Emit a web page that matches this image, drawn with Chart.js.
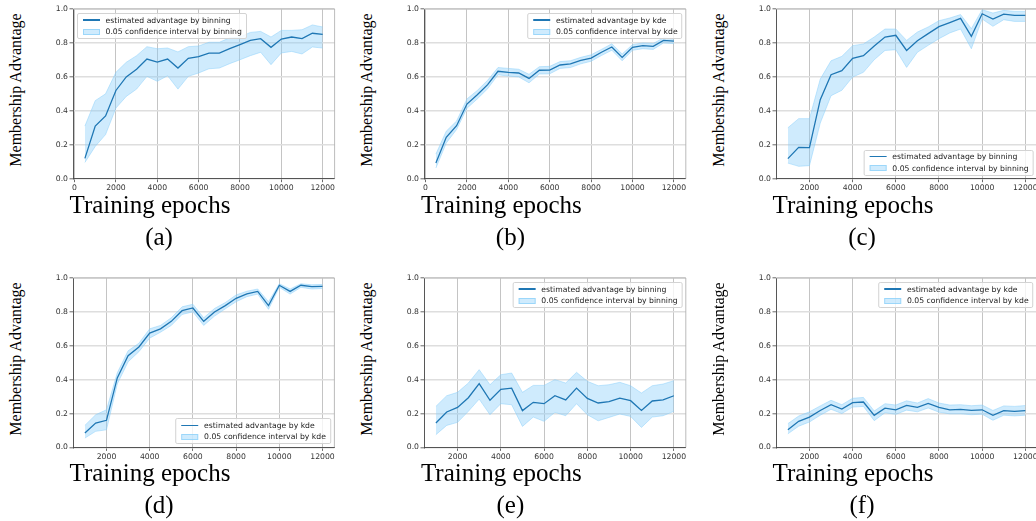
<!DOCTYPE html>
<html>
<head>
<meta charset="utf-8">
<script src="https://cdn.jsdelivr.net/npm/chart.js@4.4.1/dist/chart.umd.min.js"></script>
<style>
html, body { margin: 0; padding: 0; background: #fff; }
body { position: relative; width: 1036px; height: 521px; overflow: hidden; }
canvas { position: absolute; }
.serif { position: absolute; font-family: "Liberation Serif", "Times New Roman", serif; color: #000; white-space: nowrap; transform: translate(-50%, -50%); }
.ylab { font-size: 16px; transform: translate(-50%, -50%) rotate(-90deg); }
.xlab { font-size: 25px; }
.cap { font-size: 25px; }
.legend { position: absolute; background: rgba(255,255,255,0.8); border: 1px solid #d3d3d3; border-radius: 2px; padding: 0.5px 4px 0.5px 5px; font-family: "DejaVu Sans", sans-serif; font-size: 7.7px; color: #222; white-space: nowrap; }
.legend .row { display: flex; align-items: center; height: 11.5px; }
.legend .sw { width: 17px; margin-right: 6px; box-sizing: border-box; }
.legend .ln { height: 1.3px; background: #1f77b4; }
.legend .bd { height: 6px; background: rgba(135,206,250,0.4); border: 0.8px solid rgba(135,206,250,0.7); }
</style>
</head>
<body>
<script>
// x values (training epochs)
const epochs500 = [500,1000,1500,2000,2500,3000,3500,4000,4500,5000,5500,6000,6500,7000,7500,8000,8500,9000,9500,10000,10500,11000,11500,12000];
const epochs1000 = [1000,1500,2000,2500,3000,3500,4000,4500,5000,5500,6000,6500,7000,7500,8000,8500,9000,9500,10000,10500,11000,11500,12000];

const xTicksFrom0 = [0,2000,4000,6000,8000,10000,12000];
const xTicksFrom2000 = [2000,4000,6000,8000,10000,12000];
const yTicks = [0,0.2,0.4,0.6,0.8,1.0];

// (a) binning
const meanA = [0.12,0.31,0.37,0.52,0.60,0.645,0.705,0.687,0.705,0.652,0.709,0.719,0.74,0.74,0.766,0.79,0.815,0.825,0.774,0.823,0.835,0.825,0.857,0.85];
const upA = [0.31,0.46,0.50,0.627,0.686,0.725,0.778,0.766,0.77,0.747,0.778,0.782,0.804,0.804,0.83,0.835,0.862,0.868,0.835,0.874,0.874,0.878,0.906,0.894];
const loA = [0.096,0.19,0.26,0.416,0.485,0.528,0.603,0.574,0.607,0.528,0.603,0.623,0.648,0.652,0.678,0.701,0.725,0.745,0.672,0.741,0.75,0.735,0.776,0.77];

// (b) kde
const meanB = [0.092,0.244,0.312,0.44,0.495,0.554,0.633,0.627,0.623,0.591,0.639,0.64,0.67,0.676,0.697,0.711,0.745,0.776,0.715,0.774,0.784,0.78,0.815,0.811];
const upB = [0.145,0.28,0.34,0.47,0.52,0.58,0.655,0.65,0.645,0.615,0.66,0.662,0.69,0.695,0.715,0.73,0.762,0.795,0.735,0.79,0.8,0.797,0.83,0.826];
const loB = [0.063,0.21,0.29,0.415,0.47,0.53,0.612,0.605,0.6,0.565,0.617,0.618,0.65,0.655,0.677,0.692,0.726,0.757,0.695,0.757,0.766,0.762,0.8,0.796];

// (c) binning
const meanC = [0.118,0.185,0.183,0.466,0.613,0.637,0.709,0.725,0.782,0.835,0.845,0.756,0.813,0.855,0.896,0.92,0.945,0.839,0.972,0.941,0.97,0.963,0.963];
const upC = [0.30,0.354,0.354,0.587,0.695,0.721,0.784,0.794,0.835,0.882,0.882,0.815,0.864,0.894,0.931,0.947,0.967,0.884,0.996,0.976,0.992,0.986,0.986];
const loC = [0.092,0.073,0.077,0.328,0.489,0.521,0.599,0.627,0.701,0.756,0.76,0.656,0.745,0.786,0.825,0.859,0.882,0.766,0.941,0.898,0.937,0.927,0.927];

// (d) kde
const meanD = [0.085,0.144,0.16,0.41,0.541,0.593,0.675,0.70,0.744,0.807,0.823,0.744,0.799,0.837,0.88,0.906,0.921,0.837,0.957,0.921,0.957,0.949,0.951];
const upD = [0.13,0.193,0.222,0.44,0.57,0.615,0.70,0.72,0.765,0.83,0.845,0.765,0.82,0.855,0.9,0.922,0.935,0.86,0.966,0.935,0.966,0.96,0.962];
const loD = [0.055,0.095,0.104,0.375,0.505,0.565,0.645,0.68,0.72,0.785,0.8,0.72,0.775,0.818,0.86,0.89,0.905,0.815,0.945,0.905,0.945,0.935,0.938];

// (e) binning
const meanE = [0.144,0.209,0.236,0.293,0.376,0.278,0.343,0.35,0.217,0.266,0.258,0.305,0.28,0.35,0.289,0.262,0.27,0.291,0.276,0.218,0.274,0.28,0.305];
const upE = [0.242,0.305,0.325,0.38,0.459,0.37,0.429,0.439,0.325,0.366,0.366,0.40,0.38,0.443,0.39,0.364,0.37,0.384,0.364,0.321,0.364,0.374,0.394];
const loE = [0.075,0.13,0.148,0.213,0.285,0.193,0.258,0.252,0.124,0.179,0.154,0.207,0.187,0.258,0.193,0.157,0.177,0.197,0.183,0.118,0.179,0.187,0.213];

// (f) kde
const meanF = [0.104,0.154,0.179,0.218,0.252,0.226,0.264,0.268,0.189,0.232,0.222,0.248,0.236,0.26,0.236,0.222,0.224,0.218,0.222,0.189,0.217,0.213,0.217];
const upF = [0.14,0.185,0.21,0.245,0.278,0.252,0.29,0.295,0.215,0.258,0.25,0.275,0.262,0.288,0.262,0.25,0.252,0.246,0.25,0.218,0.245,0.242,0.247];
const loF = [0.08,0.125,0.15,0.19,0.225,0.2,0.238,0.242,0.158,0.205,0.195,0.22,0.21,0.233,0.208,0.198,0.198,0.193,0.196,0.16,0.19,0.186,0.19];

// layout of the six panels (plot area in page pixels)
const panels = [
  { cap: "(a)", L: 73, T: 9.3, R: 334.6, B: 179, xs: epochs500, mean: meanA, up: upA, lo: loA, xMin: -75, xMax: 12575, xTicks: xTicksFrom0, method: "binning", legend: "ul" },
  { cap: "(b)", L: 424.4, T: 9.3, R: 686.2, B: 179, xs: epochs500, mean: meanB, up: upB, lo: loB, xMin: -75, xMax: 12575, xTicks: xTicksFrom0, method: "kde", legend: "ur" },
  { cap: "(c)", L: 776, T: 9.3, R: 1037.2, B: 179, xs: epochs1000, mean: meanC, up: upC, lo: loC, xMin: 450, xMax: 12550, xTicks: xTicksFrom2000, method: "binning", legend: "lr" },
  { cap: "(d)", L: 73, T: 278.3, R: 334.4, B: 447.7, xs: epochs1000, mean: meanD, up: upD, lo: loD, xMin: 450, xMax: 12550, xTicks: xTicksFrom2000, method: "kde", legend: "lr" },
  { cap: "(e)", L: 424.4, T: 278.3, R: 686.2, B: 447.7, xs: epochs1000, mean: meanE, up: upE, lo: loE, xMin: 450, xMax: 12550, xTicks: xTicksFrom2000, method: "binning", legend: "ur" },
  { cap: "(f)", L: 776, T: 278.3, R: 1037.2, B: 447.7, xs: epochs1000, mean: meanF, up: upF, lo: loF, xMin: 450, xMax: 12550, xTicks: xTicksFrom2000, method: "kde", legend: "ur" },
];

Chart.defaults.font.family = "'DejaVu Sans', sans-serif";
Chart.defaults.color = "#333";

// top and right spines
const frame = {
  id: "frame",
  afterDatasetsDraw(chart) {
    const { ctx, chartArea: a } = chart;
    ctx.save();
    ctx.strokeStyle = "#aaa";
    ctx.lineWidth = 0.8;
    ctx.beginPath();
    ctx.moveTo(a.left, a.top);
    ctx.lineTo(a.right, a.top);
    ctx.lineTo(a.right, a.bottom);
    ctx.stroke();
    ctx.restore();
  },
};

const addText = (cls, text, x, y) => {
  const d = document.createElement("div");
  d.className = "serif " + cls;
  d.textContent = text;
  d.style.left = x + "px";
  d.style.top = y + "px";
  document.body.appendChild(d);
};

const addLegend = (p) => {
  const box = document.createElement("div");
  box.className = "legend";
  box.innerHTML =
    '<div class="row"><div class="sw ln"></div>estimated advantage by ' + p.method + "</div>" +
    '<div class="row"><div class="sw bd"></div>0.05 confidence interval by ' + p.method + "</div>";
  const inset = 3.5;
  let tx = "0", ty = "0";
  if (p.legend === "ul") {
    box.style.left = (p.L + inset) + "px";
    box.style.top = (p.T + inset) + "px";
  } else {
    box.style.left = (p.R - inset) + "px";
    tx = "-100%";
    if (p.legend === "ur") {
      box.style.top = (p.T + inset) + "px";
    } else {
      box.style.top = (p.B - inset) + "px";
      ty = "-100%";
    }
  }
  box.style.transform = "translate(" + tx + "," + ty + ")";
  document.body.appendChild(box);
};

const buildPanel = (p) => {
  const padL = 40, padT = 8, padR = 14, padB = 20;
  const plotW = p.R - p.L, plotH = p.B - p.T;
  const w = Math.round(plotW + padL + padR);
  const h = Math.round(plotH + padT + padB);
  const cv = document.createElement("canvas");
  cv.width = w;
  cv.height = h;
  cv.style.left = (p.L - padL) + "px";
  cv.style.top = (p.T - padT) + "px";
  cv.style.width = w + "px";
  cv.style.height = h + "px";
  document.body.appendChild(cv);

  const pts = (arr) => p.xs.map((x, i) => ({ x: x, y: arr[i] }));
  const band = {
    backgroundColor: "rgba(135,206,250,0.4)",
    borderColor: "rgba(135,206,250,0.6)",
    borderWidth: 0.8,
    pointRadius: 0,
    tension: 0,
  };

  new Chart(cv, {
    type: "line",
    data: {
      datasets: [
        { label: "estimated advantage by " + p.method, data: pts(p.mean), borderColor: "#1f77b4", borderWidth: 1.3, pointRadius: 0, tension: 0, fill: false },
        Object.assign({ label: "0.05 confidence interval by " + p.method, data: pts(p.up), fill: "+1" }, band),
        Object.assign({ label: "lower", data: pts(p.lo), fill: false }, band),
      ],
    },
    options: {
      responsive: false,
      animation: false,
      layout: { padding: { left: 0, top: padT, right: w - padL - plotW, bottom: 0 } },
      plugins: { legend: { display: false }, tooltip: { enabled: false } },
      scales: {
        x: {
          type: "linear",
          min: p.xMin,
          max: p.xMax,
          afterBuildTicks: (s) => { s.ticks = p.xTicks.map((v) => ({ value: v })); },
          afterFit: (s) => { s.height = h - padT - plotH; },
          grid: { color: "#c4c4c4", lineWidth: 1, drawTicks: true, tickLength: 3.5, tickColor: "#444", tickWidth: 0.8 },
          border: { color: "#444", width: 0.9 },
          ticks: { font: { size: 7.7 }, color: "#333", padding: 1.5, maxRotation: 0, autoSkip: false, callback: (v) => String(v) },
        },
        y: {
          min: 0,
          max: 1,
          afterBuildTicks: (s) => { s.ticks = yTicks.map((v) => ({ value: v })); },
          afterFit: (s) => { s.width = padL; },
          grid: { color: "#dedede", lineWidth: 1.6, drawTicks: true, tickLength: 3.5, tickColor: "#444", tickWidth: 0.8 },
          border: { color: "#444", width: 0.9 },
          ticks: { font: { size: 7.7 }, color: "#333", padding: 1.5, autoSkip: false, callback: (v) => v.toFixed(1) },
        },
      },
    },
    plugins: [frame],
  });

  addLegend(p);
  addText("ylab", "Membership Advantage", p.L - 57, (p.T + p.B) / 2 - 4.5);
  addText("xlab", "Training epochs", p.L + 77, p.B + 25.5);
  addText("cap", p.cap, p.L + 86, p.B + 57.6);
};

panels.forEach(buildPanel);
</script>
</body>
</html>
